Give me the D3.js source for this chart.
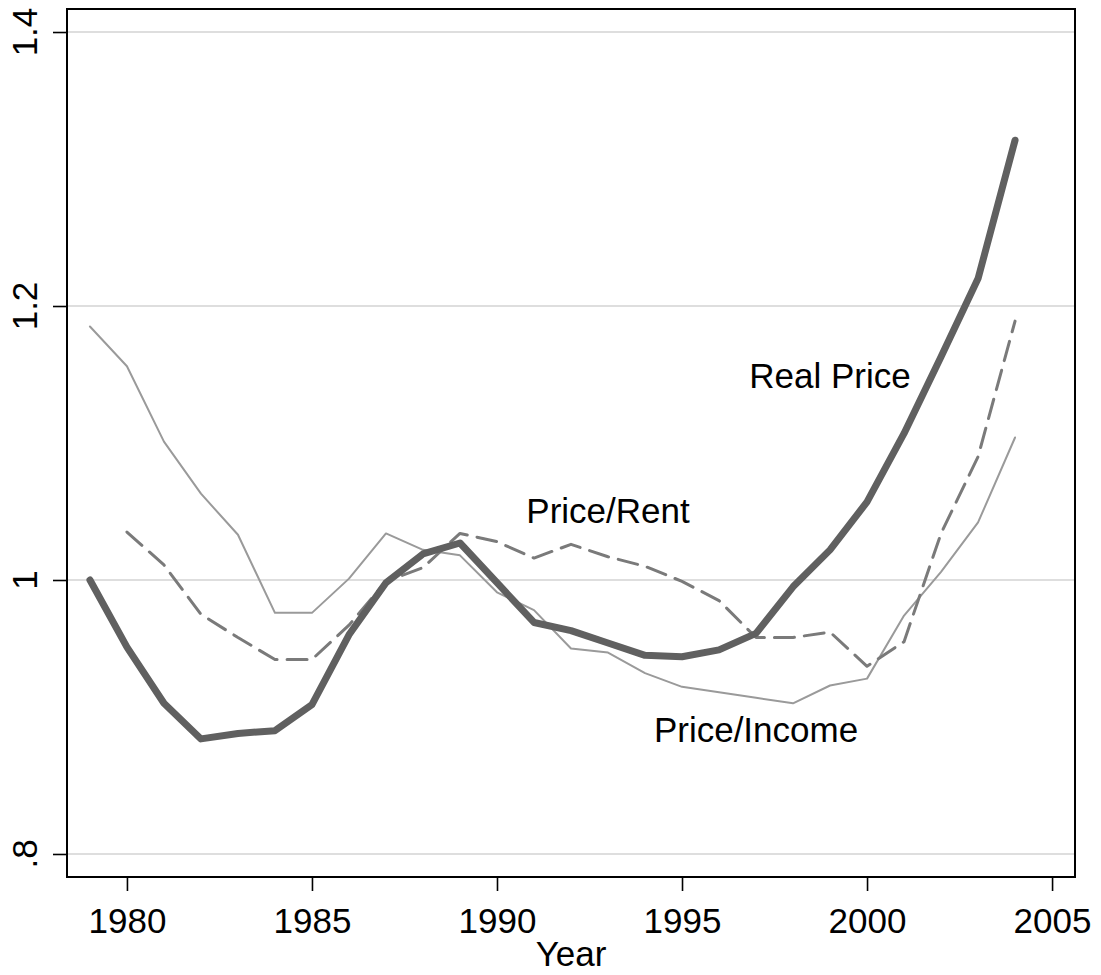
<!DOCTYPE html>
<html>
<head>
<meta charset="utf-8">
<script src="https://cdn.jsdelivr.net/npm/d3@7"></script>
<style>
  body { margin: 0; background: #fff; }
  svg text { font-family: "Liberation Sans", Arial, sans-serif; fill: #000; }
</style>
</head>
<body>
<div id="chart"></div>
<script>
const realYears = d3.range(1979, 2005)
const realPrice = [1.000, 0.951, 0.910, 0.884, 0.888, 0.890, 0.909, 0.960, 0.998, 1.019, 1.027,
    0.998, 0.969, 0.963, 0.954, 0.945, 0.944, 0.949, 0.961, 0.995, 1.022, 1.057, 1.107, 1.163, 1.220, 1.321]

const rentYears = d3.range(1980, 2005)
const priceRent = [1.035, 1.011, 0.975, 0.958, 0.942, 0.942, 0.967, 0.999, 1.009, 1.034,
    1.028, 1.016, 1.026, 1.017, 1.010, 0.999, 0.985, 0.958, 0.958, 0.962, 0.937, 0.955, 1.034, 1.090, 1.189]

const incomeYears = d3.range(1979, 2005)
const priceIncome = [1.185, 1.156, 1.101, 1.063, 1.033, 0.976, 0.976, 1.001, 1.034, 1.022, 1.018,
    0.991, 0.978, 0.950, 0.947, 0.932, 0.922, 0.918, 0.914, 0.910, 0.923, 0.928, 0.974, 1.006, 1.042, 1.104]

const xTicks = [1980, 1985, 1990, 1995, 2000, 2005]
const yTicks = [0.8, 1, 1.2, 1.4]
const yTickLabels = [".8", "1", "1.2", "1.4"]

const labelNames = ["Real Price", "Price/Rent", "Price/Income"]
const labelYears = [1999, 1993, 1997]
const labelValues = [1.140, 1.0416, 0.882]

const width = 1101
const height = 975
const margin = { top: 9, right: 26, bottom: 98, left: 67 }

const svg = d3.select("#chart").append("svg")
    .attr("width", width)
    .attr("height", height)

const x = d3.scaleLinear()
    .domain([1978.38, 2005.62])
    .range([margin.left, width - margin.right])

const y = d3.scaleLinear()
    .domain([0.7832, 1.4168])
    .range([height - margin.bottom, margin.top])

// gridlines
svg.append("g")
    .selectAll("line")
    .data(yTicks)
    .join("line")
    .attr("x1", margin.left)
    .attr("x2", width - margin.right)
    .attr("y1", (d) => y(d))
    .attr("y2", (d) => y(d))
    .attr("stroke", "#dedede")
    .attr("stroke-width", 2.2)

const line = d3.line()
    .x((d) => x(d[0]))
    .y((d) => y(d[1]))

const series = [
    { years: incomeYears, values: priceIncome, color: "#9a9a9a", w: 2, dash: null },
    { years: rentYears, values: priceRent, color: "#7a7a7a", w: 3, dash: "20,10" },
    { years: realYears, values: realPrice, color: "#606060", w: 7, dash: null }
]

series.forEach((s) => {
    const pts = s.years.map((yr, i) => [yr, s.values[i]])
    svg.append("path")
        .datum(pts)
        .attr("d", line)
        .attr("fill", "none")
        .attr("stroke", s.color)
        .attr("stroke-width", s.w)
        .attr("stroke-dasharray", s.dash)
        .attr("stroke-linejoin", "round")
        .attr("stroke-linecap", "round")
})

// axes (ticks from d3, labels placed by hand below)
const xAxis = svg.append("g")
    .attr("transform", `translate(0,${height - margin.bottom})`)
    .call(d3.axisBottom(x).tickValues(xTicks).tickFormat(d3.format("d")).tickSize(14).tickSizeOuter(0))
xAxis.select(".domain").remove()
xAxis.selectAll("line").attr("stroke", "#000").attr("stroke-width", 1.6)
xAxis.selectAll("text").attr("font-size", 35).attr("dy", "1.12em")
    .style("font-family", "'Liberation Sans', Arial, sans-serif")

const yAxis = svg.append("g")
    .attr("transform", `translate(${margin.left},0)`)
    .call(d3.axisLeft(y).tickValues(yTicks).tickSize(14).tickSizeOuter(0))
yAxis.select(".domain").remove()
yAxis.selectAll("line").attr("stroke", "#000").attr("stroke-width", 1.6)
yAxis.selectAll("text").remove()

svg.append("g")
    .selectAll("text")
    .data(yTicks)
    .join("text")
    .attr("transform", (d) => `translate(37,${y(d)}) rotate(-90)`)
    .attr("text-anchor", "middle")
    .attr("font-size", 35)
    .text((d, i) => yTickLabels[i])

// frame
svg.append("rect")
    .attr("x", margin.left)
    .attr("y", margin.top)
    .attr("width", width - margin.left - margin.right)
    .attr("height", height - margin.top - margin.bottom)
    .attr("fill", "none")
    .attr("stroke", "#000")
    .attr("stroke-width", 2)

// series labels
svg.append("g")
    .selectAll("text")
    .data(labelNames)
    .join("text")
    .attr("x", (d, i) => x(labelYears[i]))
    .attr("y", (d, i) => y(labelValues[i]))
    .attr("text-anchor", "middle")
    .attr("font-size", 35)
    .text((d) => d)

svg.append("text")
    .attr("x", (margin.left + width - margin.right) / 2)
    .attr("y", 966)
    .attr("text-anchor", "middle")
    .attr("font-size", 35)
    .text("Year")
</script>
</body>
</html>
